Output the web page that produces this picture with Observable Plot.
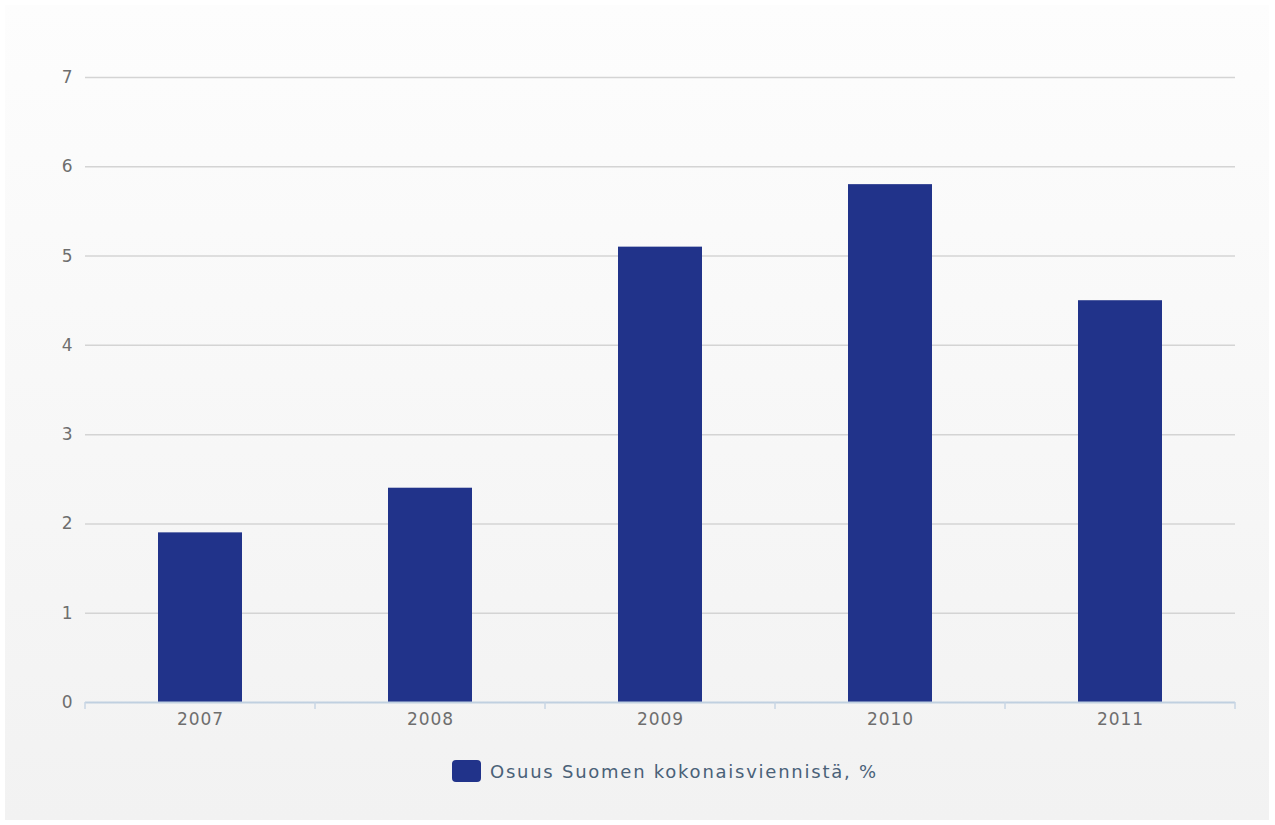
<!DOCTYPE html>
<html><head><meta charset="utf-8">
<script src="https://cdn.jsdelivr.net/npm/d3@7"></script>
<script src="https://cdn.jsdelivr.net/npm/@observablehq/plot@0.6"></script>
<style>
html,body{margin:0;padding:0;background:#fff;}
#frame{position:absolute;left:5px;top:5px;width:1264px;height:815px;background:linear-gradient(#fdfdfd,#f2f2f2);}
#chart{position:absolute;left:0;top:0;}
#chart svg text{letter-spacing:1px;}
#legend{position:absolute;left:452px;top:760px;display:flex;align-items:center;font-family:"DejaVu Sans",sans-serif;font-size:18px;letter-spacing:1.75px;color:#4a6178;}
#legend .sw{width:29px;height:22px;border-radius:4px;margin-right:9px;}
</style></head>
<body>
<div id="frame"></div>
<div id="chart"></div>
<div id="legend"></div>
<script>
const years = ["2007","2008","2009","2010","2011"];
const values = [1.9, 2.4, 5.1, 5.8, 4.5];
const yTicks = [0,1,2,3,4,5,6,7];
const seriesName = "Osuus Suomen kokonaisviennistä, %";
const barColor = "#21338a";

const data = years.map((y,i)=>({year:y, value:values[i]}));

const chart = Plot.plot({
  width: 1275, height: 740,
  marginLeft: 85, marginRight: 40, marginTop: 77, marginBottom: 38,
  style: {background: "transparent", fontFamily: "DejaVu Sans, sans-serif", fontSize: "17px", color: "#666"},
  x: {domain: years, padding: 0, label: null},
  y: {domain: [0,7], label: null},
  marks: [
    Plot.ruleY(yTicks.filter(d=>d>0), {stroke: "#d4d4d4", strokeWidth: 1.5}),
    Plot.barY(data, {x: "year", y: "value", fill: barColor, insetLeft: 73, insetRight: 73}),
    Plot.ruleY([0], {stroke: "#c0d0e0", strokeWidth: 2}),
    Plot.axisY({ticks: yTicks, tickFormat: "d", tickSize: 0, tickPadding: 12, fill: "#6e6e6e", fontSize: 17}),
    Plot.axisX({tickSize: 0, tickPadding: 10, fill: "#6e6e6e", fontSize: 17})
  ]
});
document.getElementById("chart").appendChild(chart);

// x-axis band-boundary ticks via the plot's own scales
const sx = chart.scale("x"), sy = chart.scale("y");
const y0 = sy.apply(0);
const edges = years.map(y=>sx.apply(y)).concat([sx.apply(years[years.length-1]) + sx.bandwidth]);
const g = d3.select(chart).append("g");
edges.forEach(x=>{
  g.append("line").attr("x1",x).attr("x2",x).attr("y1",y0).attr("y2",y0+7)
   .attr("stroke","#c8d6e4").attr("stroke-width",1.5);
});

const lg = document.getElementById("legend");
lg.innerHTML = `<div class="sw" style="background:${barColor}"></div><span>${seriesName}</span>`;
</script>
</body></html>
